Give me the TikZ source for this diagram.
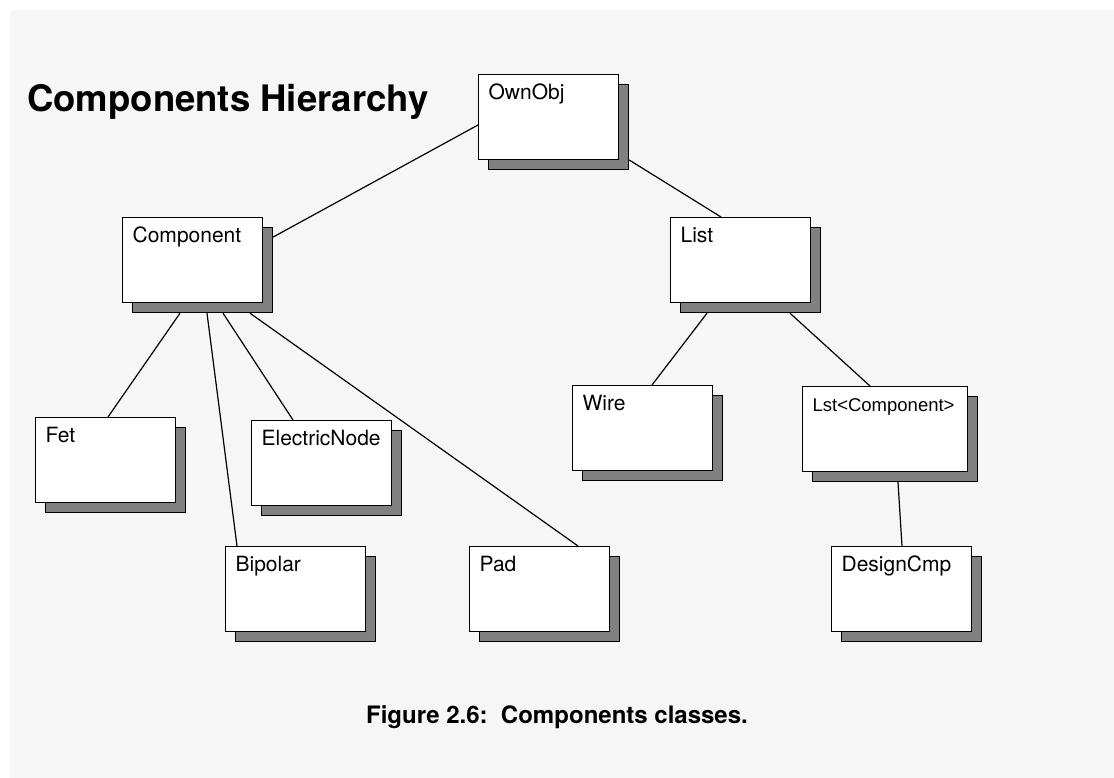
\documentclass[tikz,border=0pt]{standalone}
\usepackage{fontspec}
\setmainfont{TeX Gyre Heros}
\newfontfamily\bracketfont{Liberation Sans}
\usetikzlibrary{shadows,calc}
\definecolor{pagegray}{HTML}{F6F6F6}
\definecolor{shadowgray}{HTML}{808080}
\tikzset{
  classbox/.style={draw=black, fill=white, line width=1.2pt, anchor=north west,
    inner xsep=10pt, inner ysep=0pt, text width=120pt, text height=25pt, text depth=60pt,
    align=left, font=\fontsize{21}{25}\selectfont,
    drop shadow={shadow xshift=10pt, shadow yshift=-10pt, fill=shadowgray,
      draw=black, line width=1.2pt, opacity=1}},
  link/.style={draw=black, line width=1.2pt},
  titletext/.style={font=\fontsize{36.5}{40}\selectfont\bfseries, anchor=base west, inner sep=0pt},
  captiontext/.style={font=\fontsize{24}{28}\selectfont\bfseries, anchor=base, inner sep=0pt},
}
\begin{document}
\begin{tikzpicture}[x=1pt, y=-1pt]
  \useasboundingbox (0,0) rectangle (1114,778);
  \fill[pagegray] (10,10) rectangle (1114,778);

  \node[titletext] (title) at (27,112) {Components Hierarchy};

  % class boxes
  \node[classbox] (own)  at (478,74)  {OwnObj};
  \node[classbox] (comp) at (122,217) {Component};
  \node[classbox] (list) at (670,217) {List};
  \node[classbox] (fet)  at (35,417)  {Fet};
  \node[classbox] (enode) at (251,420) {ElectricNode};
  \node[classbox] (bip)  at (225,546) {Bipolar};
  \node[classbox] (pad)  at (469,546) {Pad};
  \node[classbox] (wire) at (572,385) {Wire};
  \node[classbox, text width=145pt, font=\fontsize{18.5}{22}\selectfont\bracketfont] (lst) at (802,386)
    {Lst\symbol{"3C}Component\symbol{"3E}};
  \node[classbox] (dcmp) at (831,546) {DesignCmp};

  % inheritance links
  \draw[link] ($(own.north west)+(0,51)$) -- ($(comp.north east)+(10,20)$);
  \draw[link] ($(own.north east)+(10,86)$) -- ($(list.north west)+(51,0)$);
  \draw[link] ($(comp.south west)+(58,10)$) -- ($(fet.north west)+(73,0)$);
  \draw[link] ($(comp.south west)+(85,10)$) -- ($(bip.north west)+(12,0)$);
  \draw[link] ($(comp.south west)+(101,10)$) -- ($(enode.north west)+(42,0)$);
  \draw[link] ($(comp.south west)+(128,10)$) -- ($(pad.north west)+(109,0)$);
  \draw[link] ($(list.south west)+(37,10)$) -- ($(wire.north west)+(80,0)$);
  \draw[link] ($(list.south west)+(120,10)$) -- ($(lst.north west)+(68,0)$);
  \draw[link] ($(lst.south west)+(96,10)$) -- ($(dcmp.north west)+(71,0)$);

  \node[captiontext] (caption) at (557,723) {Figure 2.6:\ \ Components classes.};
\end{tikzpicture}
\end{document}
